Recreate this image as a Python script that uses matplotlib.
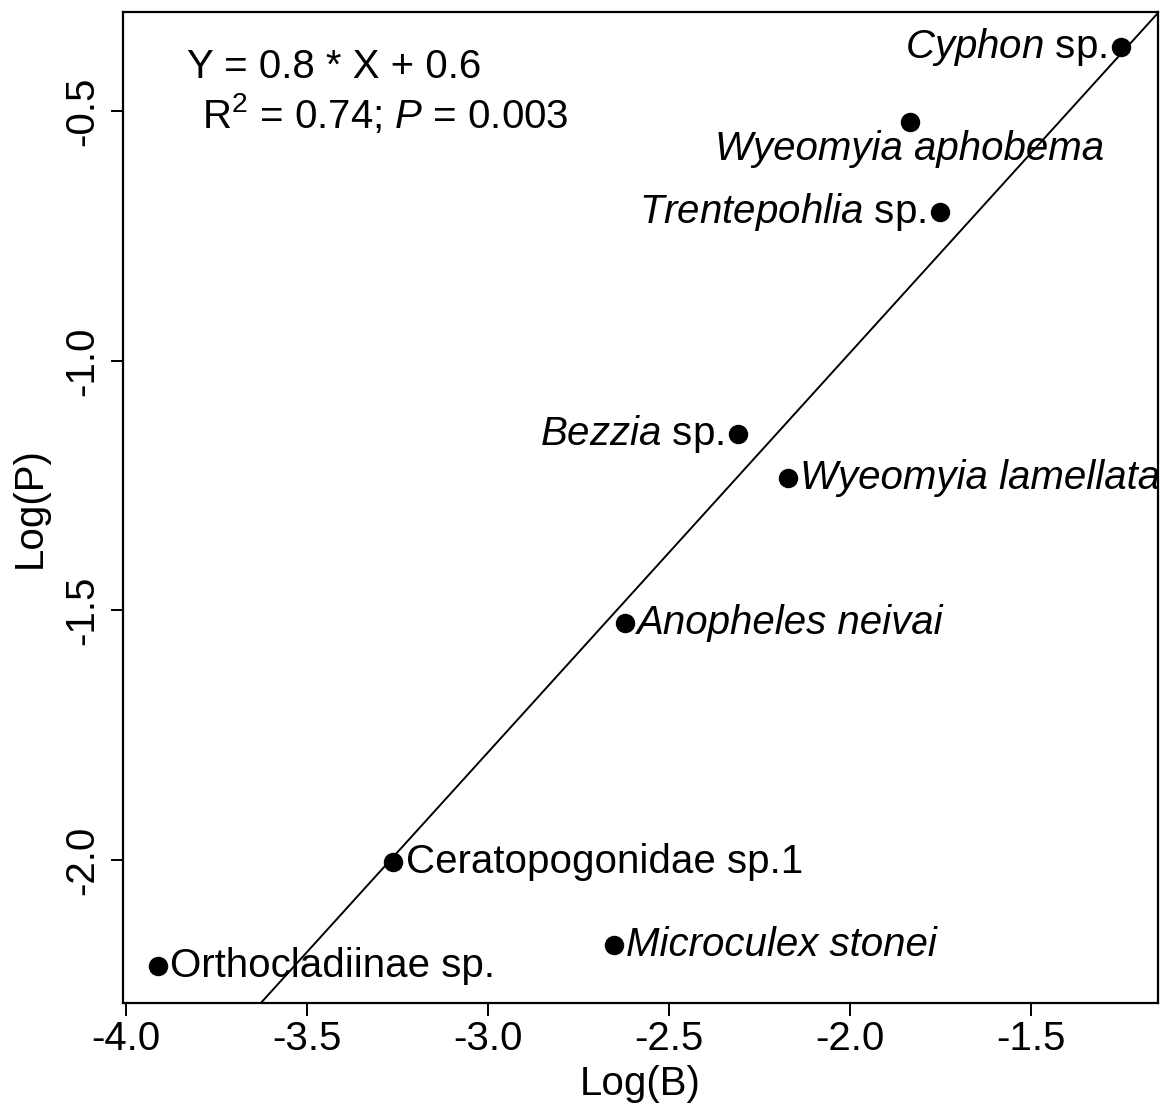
import matplotlib
matplotlib.use("Agg")
import matplotlib.pyplot as plt

plt.rcParams['font.family'] = ['Liberation Sans', 'DejaVu Sans']
plt.rcParams['mathtext.fontset'] = 'custom'
plt.rcParams['mathtext.rm'] = 'Liberation Sans'
plt.rcParams['mathtext.it'] = 'Liberation Sans:italic'
plt.rcParams['axes.unicode_minus'] = False

# log body size (B) vs log abundance (P)
species = ["Cyphon sp.", "Wyeomyia aphobema", "Trentepohlia sp.", "Bezzia sp.",
           "Wyeomyia lamellata", "Anopheles neivai", "Ceratopogonidae sp.1",
           "Microculex stonei", "Orthocladiinae sp."]
log_b = [-1.251, -1.833, -1.751, -2.309, -2.171, -2.621, -3.261, -2.652, -3.911]
log_p = [-0.372, -0.522, -0.702, -1.147, -1.235, -1.525, -2.004, -2.170, -2.212]

# fitted line
slope = 0.80
intercept = 0.615

x_ticks = [-4.0, -3.5, -3.0, -2.5, -2.0, -1.5]
y_ticks = [-2.0, -1.5, -1.0, -0.5]

# how each label is written and where it sits relative to its point
label_text = [r"$\mathit{Cyphon}$ sp.", "Wyeomyia aphobema", r"$\mathit{Trentepohlia}$ sp.",
              r"$\mathit{Bezzia}$ sp.", "Wyeomyia lamellata", "Anopheles neivai",
              "Ceratopogonidae sp.1", "Microculex stonei", "Orthocladiinae sp."]
italic = [False, True, False, False, True, True, False, True, False]
side = ["left", "below", "left", "left", "right", "right", "right", "right", "right"]

fs = 29

fig = plt.figure(figsize=(11.64, 11.04), dpi=100)
ax = fig.add_axes([123 / 1164, 1 - 1003 / 1104, (1158 - 123) / 1164, (1003 - 11.7) / 1104])

ax.plot(log_b, log_p, 'o', color='black', markersize=13, zorder=3)
ax.axline((0, intercept), slope=slope, color='black', linewidth=1.4)

for x, y, txt, it, s in zip(log_b, log_p, label_text, italic, side):
    style = 'italic' if it else 'normal'
    if s == "right":
        ax.annotate(txt, (x, y), xytext=(9, -8), textcoords='offset points',
                    ha='left', va='baseline', fontsize=fs, fontstyle=style)
    elif s == "left":
        ax.annotate(txt, (x, y), xytext=(-10, -8), textcoords='offset points',
                    ha='right', va='baseline', fontsize=fs, fontstyle=style)
    else:
        ax.annotate(txt, (x, y), xytext=(0, -27), textcoords='offset points',
                    ha='center', va='baseline', fontsize=fs, fontstyle=style)

ax.text(-3.83, -0.434, "Y = 0.8 * X + 0.6", fontsize=fs, ha='left', va='baseline')
ax.text(-3.79, -0.534, r"R$^2$ = 0.74; $\mathit{P}$ = 0.003", fontsize=fs,
        ha='left', va='baseline')

ax.set_xlim(-4.007, -1.148)
ax.set_ylim(-2.286, -0.301)
ax.set_xticks(x_ticks)
ax.set_xticklabels([f"{v:.1f}" for v in x_ticks])
ax.set_yticks(y_ticks)
ax.set_yticklabels([f"{v:.1f}" for v in y_ticks], rotation=90, va='center')

ax.tick_params(axis='both', direction='out', length=9, width=1.4, labelsize=fs)
ax.tick_params(axis='x', pad=3)
ax.tick_params(axis='y', pad=7)
for sp in ax.spines.values():
    sp.set_linewidth(1.6)

ax.set_xlabel("Log(B)", fontsize=fs, labelpad=5)
ax.set_ylabel("Log(P)", fontsize=fs, labelpad=10)

fig.savefig("out.png", dpi=100)
